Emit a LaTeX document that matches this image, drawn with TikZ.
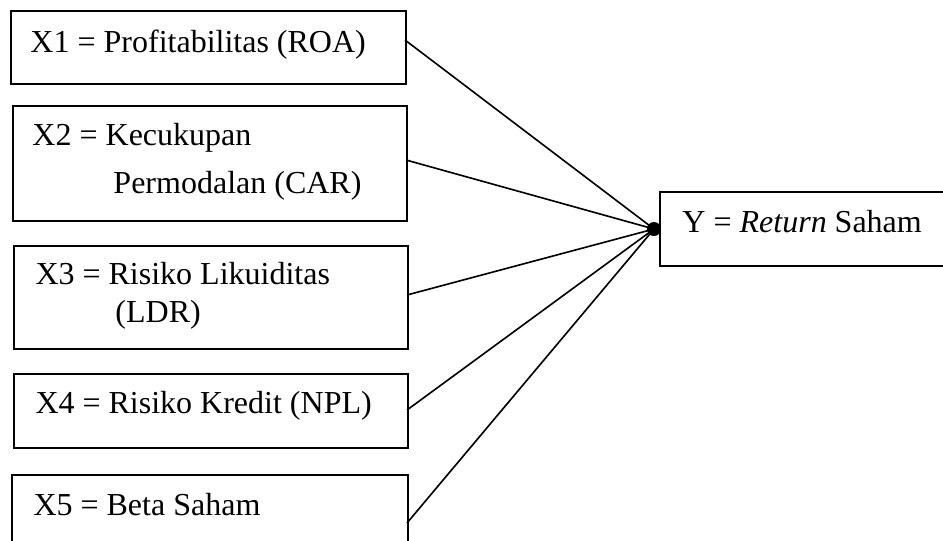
\documentclass[tikz,border=0pt]{standalone}
\usepackage{fontspec}
\setmainfont{Liberation Serif}
\begin{document}
\begin{tikzpicture}[x=0.4pt,y=-0.4pt,
  box/.style={draw,line width=0.75pt,rectangle,inner sep=0pt,anchor=north west},
  openbox/.style={rectangle,inner sep=0pt,anchor=north west},
  lbl/.style={anchor=base west,inner sep=0pt,font=\fontsize{12.8}{15}\selectfont},
  link/.style={line width=0.65pt}]
\useasboundingbox (0,0) rectangle (943,541);
\fill[white] (0,0) rectangle (943,541);
% boxes
\node[box,minimum width=395*0.4pt,minimum height=73*0.4pt] (b1) at (10,10) {};
\node[box,minimum width=394*0.4pt,minimum height=115*0.4pt] (b2) at (12,105) {};
\node[box,minimum width=394*0.4pt,minimum height=103*0.4pt] (b3) at (13,245) {};
\node[box,minimum width=394*0.4pt,minimum height=74*0.4pt] (b4) at (13,373) {};
\node[openbox,minimum width=395*0.4pt,minimum height=66*0.4pt] (b5) at (12,475) {};
\draw[line width=0.75pt] (b5.south west) -- (b5.north west) -- (b5.north east) -- (b5.south east);
\node[openbox,minimum width=283*0.4pt,minimum height=73*0.4pt] (y) at (660,192) {};
\draw[line width=0.75pt] (y.north east) -- (y.north west) -- (y.south west) -- (y.south east);
% texts
\node[lbl] (t1) at (30,52) {X1 = Profitabilitas (ROA)};
\node[lbl] (t2a) at (32,145) {X2 = Kecukupan};
\node[lbl] (t2b) at (113,193) {Permodalan (CAR)};
\node[lbl] (t3a) at (35,284) {X3 = Risiko Likuiditas};
\node[lbl] (t3b) at (115,322) {(LDR)};
\node[lbl] (t4) at (35,413) {X4 = Risiko Kredit (NPL)};
\node[lbl] (t5) at (33,515) {X5 = Beta Saham};
\node[lbl] (ty) at (682,232) {Y = \textit{Return} Saham};
% junction
\coordinate (j) at (654,229);
\coordinate (e1) at (405,40);
\coordinate (e2) at (406,160);
\coordinate (e3) at (407,295);
\coordinate (e4) at (407,410);
\coordinate (e5) at (407,523);
\draw[link] (e1) -- (j);
\draw[link] (e2) -- (j);
\draw[link] (e3) -- (j);
\draw[link] (e4) -- (j);
\draw[link] (e5) -- (j);
\fill (j) circle (7);
\end{tikzpicture}
\end{document}
